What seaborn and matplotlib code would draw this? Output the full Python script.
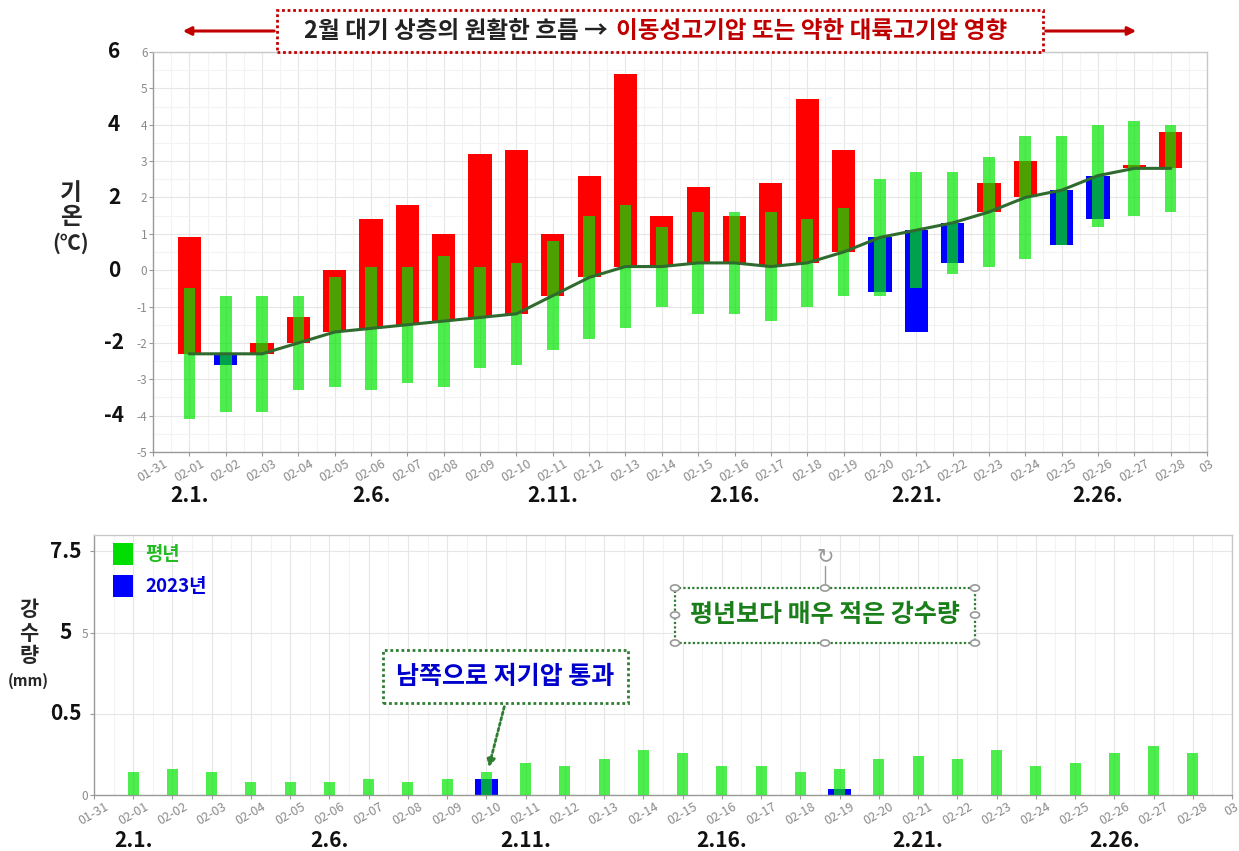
import matplotlib.pyplot as plt
import numpy as np
import pandas as pd
import seaborn as sns
from matplotlib.patches import Rectangle, Circle, FancyArrowPatch
from matplotlib.transforms import blended_transform_factory

W, H = 1239, 851

# x axis labels (01-31 .. 03), data days are 02-01 .. 02-28
tick_labels = ['01-31', '02-01', '02-02', '02-03', '02-04', '02-05', '02-06', '02-07',
               '02-08', '02-09', '02-10', '02-11', '02-12', '02-13', '02-14', '02-15',
               '02-16', '02-17', '02-18', '02-19', '02-20', '02-21', '02-22', '02-23',
               '02-24', '02-25', '02-26', '02-27', '02-28', '03']
days = tick_labels[1:-1]

# temperature (deg C)
normal_mean = [-2.3, -2.3, -2.3, -2.0, -1.7, -1.6, -1.5, -1.4, -1.3, -1.2, -0.7, -0.2, 0.1, 0.1,
               0.2, 0.2, 0.1, 0.2, 0.5, 0.9, 1.1, 1.3, 1.6, 2.0, 2.2, 2.6, 2.8, 2.8]
temp_2023 = [0.9, -2.6, -2.0, -1.3, 0.0, 1.4, 1.8, 1.0, 3.2, 3.3, 1.0, 2.6, 5.4, 1.5,
             2.3, 1.5, 2.4, 4.7, 3.3, -0.6, -1.7, 0.2, 2.4, 3.0, 0.7, 1.4, 2.9, 3.8]
normal_high = [-0.5, -0.7, -0.7, -0.7, -0.2, 0.1, 0.1, 0.4, 0.1, 0.2, 0.8, 1.5, 1.8, 1.2,
               1.6, 1.6, 1.6, 1.4, 1.7, 2.5, 2.7, 2.7, 3.1, 3.7, 3.7, 4.0, 4.1, 4.0]
normal_low = [-4.1, -3.9, -3.9, -3.3, -3.2, -3.3, -3.1, -3.2, -2.7, -2.6, -2.2, -1.9, -1.6, -1.0,
              -1.2, -1.2, -1.4, -1.0, -0.7, -0.7, -0.5, -0.1, 0.1, 0.3, 0.7, 1.2, 1.5, 1.6]

# precipitation (mm)
rain_normal = [0.7, 0.8, 0.7, 0.4, 0.4, 0.4, 0.5, 0.4, 0.5, 0.7, 1.0, 0.9, 1.1, 1.4,
               1.3, 0.9, 0.9, 0.7, 0.8, 1.1, 1.2, 1.1, 1.4, 0.9, 1.0, 1.3, 1.5, 1.3]
rain_2023 = [0, 0, 0, 0, 0, 0, 0, 0, 0, 0.5, 0, 0, 0, 0,
             0, 0, 0, 0, 0.2, 0, 0, 0, 0, 0, 0, 0, 0, 0]

date_marks = ['02-01', '02-06', '02-11', '02-16', '02-21', '02-26']
date_mark_labels = ['2.1.', '2.6.', '2.11.', '2.16.', '2.21.', '2.26.']

RED = '#ff0000'
BLUE = '#0000ff'
GREEN = '#00e600'
LINE = '#2f6b2f'
DARKRED = '#c00000'

sns.set_theme(style='whitegrid')
plt.rcParams['font.family'] = ['Noto Sans CJK KR', 'DejaVu Sans']
plt.rcParams['axes.unicode_minus'] = False


def F(px, py):
    # figure pixel -> figure fraction
    return px / W, 1 - py / H


df_t = pd.DataFrame({'day': days, 'pos': [tick_labels.index(d) for d in days],
                     'normal': normal_mean, 'obs': temp_2023,
                     'high': normal_high, 'low': normal_low})
df_t['bottom'] = df_t[['normal', 'obs']].min(axis=1)
df_t['height'] = (df_t['obs'] - df_t['normal']).abs()
df_t['color'] = np.where(df_t['obs'] >= df_t['normal'], RED, BLUE)

df_r = pd.DataFrame({'pos': [tick_labels.index(d) for d in days],
                     'normal': rain_normal, 'y2023': rain_2023})

fig = plt.figure(figsize=(W / 100, H / 100), dpi=100)
ax1 = fig.add_axes([153 / W, 1 - 452 / H, (1207 - 153) / W, 400 / H])
ax2 = fig.add_axes([94 / W, 1 - 795 / H, (1232 - 94) / W, 260 / H])


def style_axes(ax, ylim, yticks, ylabels, xlabels):
    ax.set_xlim(0, len(tick_labels) - 1)
    ax.set_ylim(*ylim)
    ax.set_xticks(np.arange(len(tick_labels)))
    ax.set_xticklabels(xlabels, rotation=30, ha='center', fontsize=9, color='#8a8a8a')
    ax.set_xticks(np.arange(0.5, len(tick_labels) - 1, 1), minor=True)
    ax.set_yticks(yticks)
    ax.set_yticklabels(ylabels, fontsize=8.5, color='#8a8a8a')
    ax.grid(True, which='major', color='#e6e6e6', lw=0.8)
    ax.grid(True, which='minor', color='#f3f3f3', lw=0.8)
    ax.tick_params(which='major', bottom=True, left=True, length=3, width=0.8,
                   color='#999999', pad=1)
    ax.tick_params(which='minor', bottom=False, left=False)
    ax.set_axisbelow(True)
    for s in ax.spines.values():
        s.set_color('#c8c8c8')
        s.set_linewidth(1)
    ax.spines['left'].set_color('#999999')
    ax.spines['bottom'].set_color('#999999')
    ax.set_xlabel('')
    ax.set_ylabel('')


# ---- top: temperature ----
ax1.bar(df_t['pos'], df_t['height'], bottom=df_t['bottom'], width=0.64,
        color=df_t['color'], edgecolor='none', linewidth=0, zorder=2)
ax1.bar(df_t['pos'], df_t['high'] - df_t['low'], bottom=df_t['low'], width=0.32,
        color=GREEN, alpha=0.7, edgecolor='none', linewidth=0, zorder=3)
sns.lineplot(data=df_t, x='pos', y='normal', ax=ax1, color=LINE, lw=2.2, zorder=4)

style_axes(ax1, (-5, 6), list(range(-5, 7)), [str(v) for v in range(-5, 7)],
           tick_labels)
ax1.set_yticks(np.arange(-4.5, 6, 1), minor=True)

trans1 = blended_transform_factory(ax1.transAxes, ax1.transData)
for v in [6, 4, 2, 0, -2, -4]:
    ax1.text(-0.037, v, str(v), transform=trans1, ha='center', va='center',
             fontsize=15, fontweight='bold', color='#111111')
transx1 = blended_transform_factory(ax1.transData, ax1.transAxes)
for d, lab in zip(date_marks, date_mark_labels):
    ax1.text(tick_labels.index(d), -0.11, lab, transform=transx1, ha='center',
             va='center', fontsize=15, fontweight='bold', color='#111111')

# ---- bottom: precipitation ----
sns.barplot(data=df_r, x='pos', y='y2023', native_scale=True, orient='x', width=0.6,
            color=BLUE, saturation=1, errorbar=None, linewidth=0, ax=ax2, zorder=2)
sns.barplot(data=df_r, x='pos', y='normal', native_scale=True, orient='x', width=0.28,
            color=GREEN, saturation=1, errorbar=None, linewidth=0, alpha=0.7, ax=ax2,
            zorder=3)
style_axes(ax2, (0, 8), [0, 2.5, 5, 7.5], ['0', '', '5', ''], tick_labels)

trans2 = blended_transform_factory(ax2.transAxes, ax2.transData)
for v, lab in zip([7.5, 5, 2.5], ['7.5', '5', '0.5']):
    ax2.text(-0.025, v, lab, transform=trans2, ha='center', va='center',
             fontsize=15, fontweight='bold', color='#111111')
transx2 = blended_transform_factory(ax2.transData, ax2.transAxes)
for d, lab in zip(date_marks, date_mark_labels):
    ax2.text(tick_labels.index(d), -0.175, lab, transform=transx2, ha='center',
             va='center', fontsize=15, fontweight='bold', color='#111111')

# y axis titles
for ch, py in zip(['기', '온'], [193, 217]):
    fig.text(*F(71, py), ch, ha='center', va='center', fontsize=17, fontweight='bold')
fig.text(*F(71, 243), '(℃)', ha='center', va='center', fontsize=15, fontweight='bold')
for ch, py in zip(['강', '수', '량'], [610, 633, 656]):
    fig.text(*F(29, py), ch, ha='center', va='center', fontsize=15, fontweight='bold')
fig.text(*F(28, 681), '(mm)', ha='center', va='center', fontsize=11, fontweight='bold')

# headline box with arrows
x0, y0 = F(277, 52)
x1, y1 = F(1043, 10)
fig.add_artist(Rectangle((x0, y0), x1 - x0, y1 - y0, transform=fig.transFigure,
                         facecolor='white', edgecolor=DARKRED, lw=2,
                         linestyle=(0, (1, 1)), zorder=5))
fig.text(*F(608, 31), '2월 대기 상층의 원활한 흐름 →', ha='right', va='center',
         fontsize=17, fontweight='bold', color='#222222', zorder=6)
fig.text(*F(616, 31), '이동성고기압 또는 약한 대륙고기압 영향', ha='left', va='center',
         fontsize=17, fontweight='bold', color=DARKRED, zorder=6)
for a, b in [((277, 31), (180, 31)), ((1043, 31), (1139, 31))]:
    fig.add_artist(FancyArrowPatch(F(*a), F(*b), transform=fig.transFigure,
                                   arrowstyle='-|>', mutation_scale=12, lw=2.2,
                                   color=DARKRED))

# legend of precipitation chart
for (py0, py1), col, txt, tcol in [((543, 565), '#00dd00', '평년', '#22bb22'),
                                   ((575, 597), BLUE, '2023년', '#0000dd')]:
    lx, ly = F(113, py1)
    fig.add_artist(Rectangle((lx, ly), 20 / W, (py1 - py0) / H, transform=fig.transFigure,
                             facecolor=col, edgecolor='none', zorder=5))
    fig.text(*F(145, (py0 + py1) / 2), txt, ha='left', va='center', fontsize=13.5,
             fontweight='bold', color=tcol)

# annotation: low pressure passing to the south
bx0, by0 = F(383, 703)
bx1, by1 = F(628, 650)
fig.add_artist(Rectangle((bx0, by0), bx1 - bx0, by1 - by0, transform=fig.transFigure,
                         facecolor='white', edgecolor='#2e7d32', lw=2,
                         linestyle=(0, (1, 1)), zorder=5))
fig.text(*F(505, 677), '남쪽으로 저기압 통과', ha='center', va='center', fontsize=18,
         fontweight='bold', color='#0000cc', zorder=6)
fig.add_artist(FancyArrowPatch(F(505, 704), F(488, 770), transform=fig.transFigure,
                               arrowstyle='-|>', mutation_scale=12, lw=2,
                               linestyle=(0, (1, 1)), color='#2e7d32', zorder=6))

# annotation: very little precipitation (selected text box)
cx0, cy0 = F(675, 643)
cx1, cy1 = F(975, 588)
fig.add_artist(Rectangle((cx0, cy0), cx1 - cx0, cy1 - cy0, transform=fig.transFigure,
                         facecolor='white', edgecolor='#2e7d32', lw=1.6,
                         linestyle=(0, (1, 1)), zorder=5))
fig.text(*F(825, 615), '평년보다 매우 적은 강수량', ha='center', va='center', fontsize=18,
         fontweight='bold', color='#1a7f1a', zorder=6)
fig.add_artist(plt.Line2D([825 / W, 825 / W], [1 - 588 / H, 1 - 566 / H],
                          transform=fig.transFigure, color='#999999', lw=1, zorder=6))
for hx in [675, 825, 975]:
    for hy in [588, 615, 643]:
        if hx == 825 and hy == 615:
            continue
        fig.add_artist(Circle(F(hx, hy), 4.5 / W, transform=fig.transFigure,
                              facecolor='white', edgecolor='#999999', lw=1.2, zorder=7))
fig.text(*F(825, 556), '↻', ha='center', va='center', fontsize=15, color='#999999',
         family=['DejaVu Sans'], zorder=7)

fig.savefig('out.png', dpi=100)
